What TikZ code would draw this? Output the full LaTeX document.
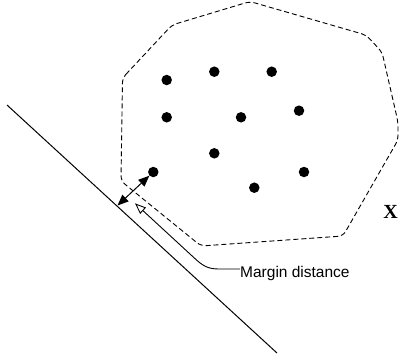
\documentclass[tikz,border=0pt]{standalone}
\usepackage{fontspec}
\newfontfamily\labelfont{Liberation Sans}
\newfontfamily\xfont{Liberation Serif}
\usetikzlibrary{arrows.meta}
\tikzset{
  pt/.style={circle,fill=black,inner sep=0pt,minimum size=10.5pt},
  hull/.style={dashed,dash pattern=on 5pt off 3pt,line width=0.9pt,rounded corners=5pt},
  sep/.style={line width=1pt},
  marg/.style={line width=1pt,{Triangle[length=11pt,width=9pt]}-{Triangle[length=11pt,width=9pt]}},
  lead/.style={line width=0.9pt,{Triangle[open,length=11pt,width=8.5pt]}-}
}
\begin{document}
\begin{tikzpicture}[x=1pt,y=-1pt]
\useasboundingbox (0,0) rectangle (399,360);
% convex hull
\draw[hull] (122.5,78) -- (172,25) -- (250,1.5) -- (366,35) -- (382,52) -- (398,122) -- (398,140) -- (343,236) -- (201,246) -- (121,181) -- cycle;
% points
\node[pt] (d1) at (166.7,80) {};
\node[pt] (d2) at (214.3,71.7) {};
\node[pt] (d3) at (271.7,71.7) {};
\node[pt] (d4) at (166.7,117.3) {};
\node[pt] (d5) at (241,117.3) {};
\node[pt] (d6) at (299,110.7) {};
\node[pt] (d7) at (214.3,153.3) {};
\node[pt] (d8) at (153.3,172) {};
\node[pt] (d9) at (304,172) {};
\node[pt] (d10) at (254.3,187.7) {};
% separating line
\coordinate (l1) at (7,105);
\coordinate (l2) at (277,353);
\draw[sep] (l1) -- (l2);
% margin arrow
\coordinate (m) at (117.5,205.5);
\draw[marg] (d8) -- (m);
% label
\node[anchor=west,inner sep=0pt,font=\labelfont\fontsize{15.5}{18}\selectfont] (lab) at (240,273) {Margin distance};
\coordinate (t) at (135,203.3);
\draw[lead] (t) -- (196.5,260) .. controls (205,267.5) and (210,269) .. (220,269) -- (lab.west |- 0,269);
% X label
\node[font=\xfont\bfseries\fontsize{20}{24}\selectfont,inner sep=0pt] (X) at (390.5,212) {X};
\end{tikzpicture}
\end{document}
